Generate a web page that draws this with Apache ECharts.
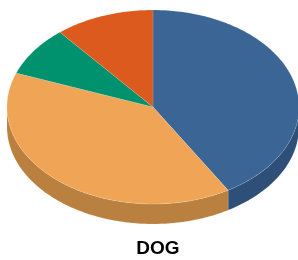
<!DOCTYPE html>
<html>
<head>
<meta charset="utf-8">
<script src="https://cdn.jsdelivr.net/npm/echarts@6/dist/echarts.min.js"></script>
<style>
  html, body { margin: 0; padding: 0; background: #fff; }
  #chart { width: 298px; height: 260px; }
</style>
</head>
<body>
<div id="chart"></div>
<script>
  // slices, clockwise from 12 o'clock
  var categories = ['A', 'B', 'C', 'D'];
  var values = [41.4, 39.3, 8.3, 11.0];
  var topColors = ['#3a6595', '#efa555', '#00916e', '#dc5a1e'];
  var sideColors = ['#2d4f78', '#b9803f', '#00704f', '#a8461a'];
  var titleText = 'DOG';

  // tilted pie geometry
  var cx = 153, cy = 107, rx = 146, ry = 97, depth = 20;

  var total = values.reduce(function (a, b) { return a + b; }, 0);
  var starts = [];
  var acc = 0;
  values.forEach(function (v) { starts.push(acc / total * 360); acc += v; });

  function pt(deg, dy) {
    var t = deg * Math.PI / 180;
    return [cx + rx * Math.sin(t), cy - ry * Math.cos(t) + (dy || 0)];
  }

  function arc(a0, a1, dy) {
    var pts = [];
    var n = Math.max(2, Math.ceil(Math.abs(a1 - a0)));
    for (var i = 0; i <= n; i++) pts.push(pt(a0 + (a1 - a0) * i / n, dy));
    return pts;
  }

  function renderSide(params, api) {
    var i = params.dataIndex;
    var a0 = starts[i], a1 = a0 + api.value(1) / total * 360;
    var s = Math.max(a0, 90), e = Math.min(a1, 270);
    if (e <= s) return;
    var pts = arc(s, e, 0).concat(arc(e, s, depth));
    return {
      type: 'polygon',
      shape: { points: pts },
      style: { fill: sideColors[i], stroke: 'rgba(255,255,255,0.25)', lineWidth: 0.5 }
    };
  }

  function renderTop(params, api) {
    var i = params.dataIndex;
    var a0 = starts[i], a1 = a0 + api.value(1) / total * 360;
    var pts = [[cx, cy]].concat(arc(a0, a1, 0));
    return {
      type: 'polygon',
      shape: { points: pts },
      style: { fill: topColors[i], stroke: 'rgba(255,255,255,0.25)', lineWidth: 0.5 }
    };
  }

  var data = categories.map(function (c, i) { return [i, values[i], c]; });

  var chart = echarts.init(document.getElementById('chart'), null, { renderer: 'canvas' });
  chart.setOption({
    animation: false,
    title: {
      text: titleText,
      left: 153,
      top: 234,
      textAlign: 'center',
      textStyle: { fontFamily: 'Liberation Sans, Arial, sans-serif', fontSize: 19, fontWeight: 'bold', color: '#000' }
    },
    series: [
      { type: 'custom', coordinateSystem: 'none', renderItem: renderSide, data: data, z: 1 },
      { type: 'custom', coordinateSystem: 'none', renderItem: renderTop, data: data, z: 2 }
    ]
  });
</script>
</body>
</html>
